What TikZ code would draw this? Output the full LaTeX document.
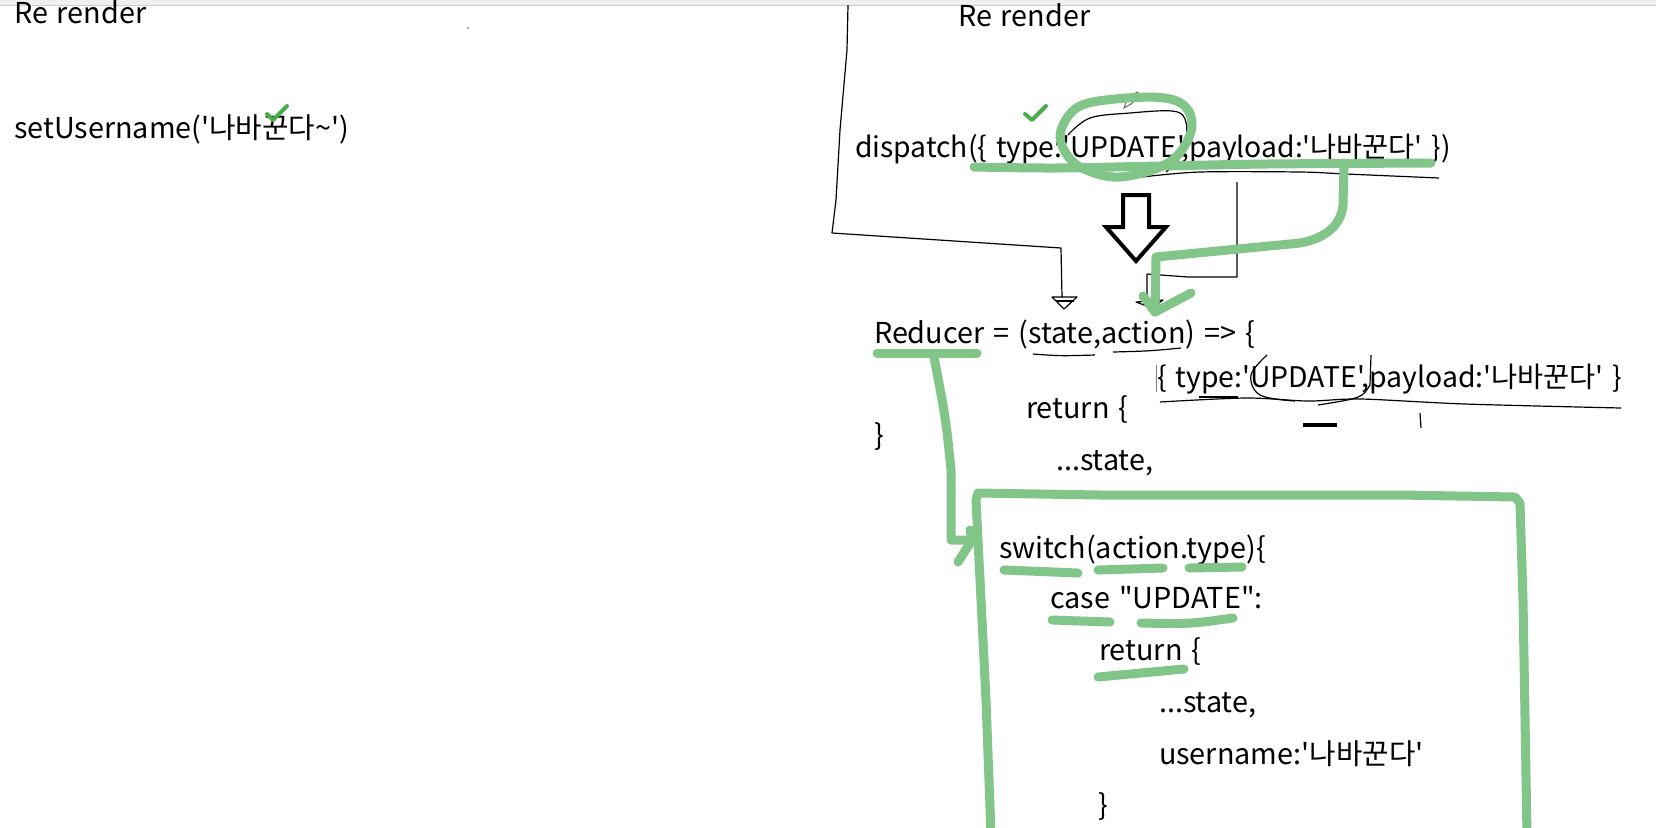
\documentclass[tikz,border=0pt]{standalone}
\usepackage{fontspec}
\newfontfamily\ko[WordSpace=1.4]{Noto Sans CJK KR}
\definecolor{hlgreen}{RGB}{130,197,136}
\definecolor{chkgreen}{RGB}{74,172,74}
\definecolor{topbar}{RGB}{240,240,240}
\begin{document}
\begin{tikzpicture}[x=0.5pt,y=-0.5pt,
  txt/.style={font=\ko\fontsize{14.4}{18}\selectfont, anchor=base west, inner sep=0pt, outer sep=0pt},
  acttxt/.style={txt, font=\ko\fontsize{14.2}{18}\selectfont},
  disptxt/.style={txt, font=\ko\fontsize{14.15}{18}\selectfont},
  hl/.style={draw=hlgreen, line width=4.5pt, line cap=round, line join=round},
  chk/.style={draw=chkgreen, line width=2pt, line cap=round, line join=round},
  pen/.style={draw=black, line width=0.6pt, line join=round},
  fat/.style={draw=black, line width=2pt, line join=miter}]
\fill[white] (0,0) rectangle (1656,827);
\path[use as bounding box] (0,0) rectangle (1656,827);
\clip (0,0) rectangle (1656,827);
\fill[topbar] (0,0) rectangle (1656,5);
\draw[black!20, line width=0.5pt] (0,5.5) -- (1656,5.5);
\fill[black!70] (468,28) circle (0.8);

% ---- texts
\node[txt] (rrL) at (14,23) {Re render};
\node[txt] (setU) at (14,138) {setUsername('나바꾼다\textasciitilde')};
\node[txt] (rrR) at (958,26) {Re render};
\node[disptxt] (disp) at (855,157) {dispatch(\{ type:'UPDATE',payload:'나바꾼다' \})};
\node[txt] (red) at (874,343) {Reducer = (state,action) => \{};
\node[acttxt] (act) at (1157,387) {\{ type:'UPDATE',payload:'나바꾼다' \}};
\node[txt] (ret1) at (1026,418) {return \{};
\node[txt] (cl1) at (874,445) {\}};
\node[txt] (st1) at (1056,470) {...state,};
\node[txt] (sw) at (999,558) {switch(action.type)\{};
\node[txt] (cs) at (1050,608) {case "UPDATE":};
\node[txt] (ret2) at (1099,660) {return \{};
\node[txt] (st2) at (1159,712) {...state,};
\node[txt] (usr) at (1159,764) {username:'나바꾼다'};
\node[txt] (cl2) at (1098,815) {\}};

% ---- thin black hand-drawn lines
\coordinate (tipA) at (1062,297);
\coordinate (tipB) at (1147,302);
\draw[pen] (848,5) -- (847,50) -- (840,130) -- (836,200) -- (832,233) -- (1061,248) -- (tipA);
\draw[pen] (1052,297) -- (1077,297) -- (1064,309) -- cycle;
\draw[pen] (1056,301) -- (1074,301);
\draw[pen] (1237,182) -- (1237,277) -- (1188,277) -- (1147,274) -- (tipB);
\draw[pen] (1136,302) -- (1163,300) -- (1152,308) -- cycle;
% ellipse around UPDATE in dispatch
\draw[pen] plot[smooth, tension=0.6] coordinates {(1068,135) (1090,118) (1130,113) (1172,111) (1185,119) (1186,140) (1178,160) (1166,172)};
\draw[pen] plot[smooth, tension=0.5] coordinates {(1142,177) (1200,172) (1300,172) (1346,174) (1439,178)};
% pencil cursor
\draw[black!60, line width=0.5pt] (1124,108) -- (1127,100) -- (1137,92) -- (1141,95) -- (1131,104) -- cycle;
% under state / action
\draw[pen] (1033,354) .. controls (1060,356) .. (1095,355);
\draw[pen] (1113,352) .. controls (1150,351) .. (1181,348);
% marks around pasted action text
\draw[black!50, line width=0.5pt] (1156,365) -- (1156,392);
\draw[pen] plot[smooth, tension=0.6] coordinates {(1267,355) (1251,375) (1260,395) (1295,401)};
\draw[pen] (1371,355) -- (1370,385) .. controls (1362,398) .. (1318,405);
\draw[pen] plot[smooth, tension=0.5] coordinates {(1160,402) (1246,398) (1308,401) (1361,399) (1465,404) (1621,408)};
\draw[black, line width=1.2pt] (1199,397) -- (1238,397);
\draw[black, line width=2.2pt] (1303,425) -- (1337,425);
\draw[pen] (1420,413) -- (1421,428);

% ---- big outlined arrow
\draw[fat] (1123,195) -- (1149,195) -- (1149,227) -- (1166,227) -- (1136,261) -- (1106,227) -- (1123,227) -- cycle;

% ---- green strokes
\draw[chk] (267,114) -- (273,120) -- (287,106);
\draw[chk] (1025,114) -- (1032,120) -- (1046,106);
\draw[hl] plot[smooth, tension=0.5] coordinates {(974,167) (1056,168) (1160,166) (1267,164) (1431,163)};
\draw[hl] plot[smooth cycle, tension=0.6] coordinates {(1061,130) (1078,107) (1115,99) (1165,98) (1188,110) (1190,135) (1168,163) (1120,177) (1082,168) (1064,150)};
\coordinate (tipC) at (1155,312);
\draw[hl] (1344,166) -- (1343,205) to[out=-95,in=10] (1300,243) -- (1156,257) -- (tipC);
\draw[hl] (1143,296) -- (tipC) -- (1191,293);
\draw[hl] (877,353) -- (977,353);
\coordinate (tipD) at (972,540);
\draw[hl] (934,357) .. controls (946,420) .. (951,470) -- (951,540) -- (tipD);
\draw[hl] (970,530) -- (tipD) -- (958,562);
\draw[hl] (991,835) -- (986,700) -- (980,580) -- (976,500) -- (978,493) -- (1100,495) -- (1400,495) -- (1515,497) -- (1520,503) -- (1523,600) -- (1527,835);
\draw[hl] (1004,570) -- (1078,573);
\draw[hl] (1098,570) -- (1163,568);
\draw[hl] (1189,568) -- (1242,567);
\draw[hl] (1052,620) -- (1110,622);
\draw[hl] (1141,623) .. controls (1190,624) .. (1233,618);
\draw[hl] (1098,677) -- (1184,669);
\end{tikzpicture}
\end{document}
